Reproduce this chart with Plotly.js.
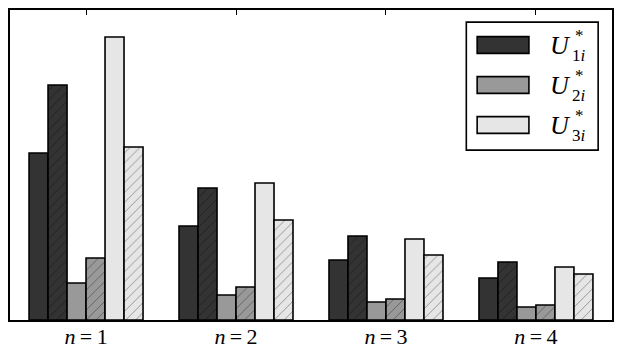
<!DOCTYPE html>
<html>
<head>
<meta charset="utf-8">
<script src="https://cdn.plot.ly/plotly-3.0.1.min.js"></script>
<style>
  html, body { margin: 0; padding: 0; background: #fff; }
  #chart { width: 623px; height: 352px; }
</style>
</head>
<body>
<div id="chart"></div>
<script>
// groups on the x axis
const groups = ['n1', 'n2', 'n3', 'n4'];
const tickLabels = ['<i>n</i>\u2009=\u20091', '<i>n</i>\u2009=\u20092', '<i>n</i>\u2009=\u20093', '<i>n</i>\u2009=\u20094'];

// values (solid / hatched pairs)
const u1Solid = [167, 94, 60, 42];
const u1Hatch = [235, 132, 84, 58];
const u2Solid = [37, 25, 18, 13];
const u2Hatch = [62, 33, 21, 15];
const u3Solid = [283, 137, 81, 53];
const u3Hatch = [173, 100, 65, 46];

const dark = '#333333', mid = '#999999', light = '#e6e6e6';
const serif = 'Liberation Serif';

function bar(name, y, color, hatched) {
  const marker = { color: color, line: { color: '#000', width: 1.6 } };
  if (hatched) {
    marker.pattern = { shape: '/', fgcolor: '#000', bgcolor: color, fgopacity: 0.4, size: 7, solidity: 0.12 };
  }
  return { type: 'bar', x: groups, y: y, name: name, marker: marker, showlegend: false, hoverinfo: 'none' };
}

const data = [
  bar('U1', u1Solid, dark, false),
  bar('U1h', u1Hatch, dark, true),
  bar('U2', u2Solid, mid, false),
  bar('U2h', u2Hatch, mid, true),
  bar('U3', u3Solid, light, false),
  bar('U3h', u3Hatch, light, true)
];

// hand-made legend (big swatches like the original)
const legendColors = [dark, mid, light];
const legendIdx = ['1', '2', '3'];
const shapes = [{
  type: 'rect', xref: 'paper', yref: 'paper',
  x0: 0.758, x1: 0.977, y0: 0.548, y1: 0.961,
  line: { color: '#000', width: 1.6 }, fillcolor: '#fff'
}];
const annotations = [];
legendColors.forEach((c, i) => {
  const yc = 0.887 - i * 0.129;
  shapes.push({
    type: 'rect', xref: 'paper', yref: 'paper',
    x0: 0.776, x1: 0.862, y0: yc - 0.027, y1: yc + 0.027,
    line: { color: '#000', width: 1.6 }, fillcolor: c
  });
  annotations.push({
    xref: 'paper', yref: 'paper', x: 0.893, y: yc, xanchor: 'left', yanchor: 'middle',
    text: '<i>U</i>', showarrow: false, font: { family: serif, size: 26, color: '#000' }
  });
  annotations.push({
    xref: 'paper', yref: 'paper', x: 0.936, y: yc + 0.032, xanchor: 'left', yanchor: 'middle',
    text: '*', showarrow: false, font: { family: serif, size: 17, color: '#000' }
  });
  annotations.push({
    xref: 'paper', yref: 'paper', x: 0.93, y: yc - 0.033, xanchor: 'left', yanchor: 'middle',
    text: legendIdx[i] + '<i>i</i>', showarrow: false, font: { family: serif, size: 17, color: '#000' }
  });
});

const layout = {
  width: 623, height: 352,
  margin: { l: 10, r: 11, t: 10, b: 32 },
  paper_bgcolor: '#fff', plot_bgcolor: '#fff',
  font: { family: serif, color: '#000' },
  barmode: 'group', bargap: 0.24, bargroupgap: 0,
  showlegend: false,
  xaxis: {
    tickmode: 'array', tickvals: groups, ticktext: tickLabels,
    range: [-0.507, 3.507],
    ticks: 'inside', ticklen: 5, tickcolor: '#000', tickwidth: 1,
    showline: true, linecolor: '#000', linewidth: 1.6, mirror: 'allticks',
    showgrid: false, zeroline: false,
    ticklabelstandoff: -4,
    tickfont: { family: serif, size: 22, color: '#000' }
  },
  yaxis: {
    range: [0, 310],
    showticklabels: false, ticks: '',
    showline: true, linecolor: '#000', linewidth: 1.6, mirror: true,
    showgrid: false, zeroline: false
  },
  shapes: shapes,
  annotations: annotations
};

Plotly.newPlot('chart', data, layout, { staticPlot: true });
</script>
</body>
</html>
